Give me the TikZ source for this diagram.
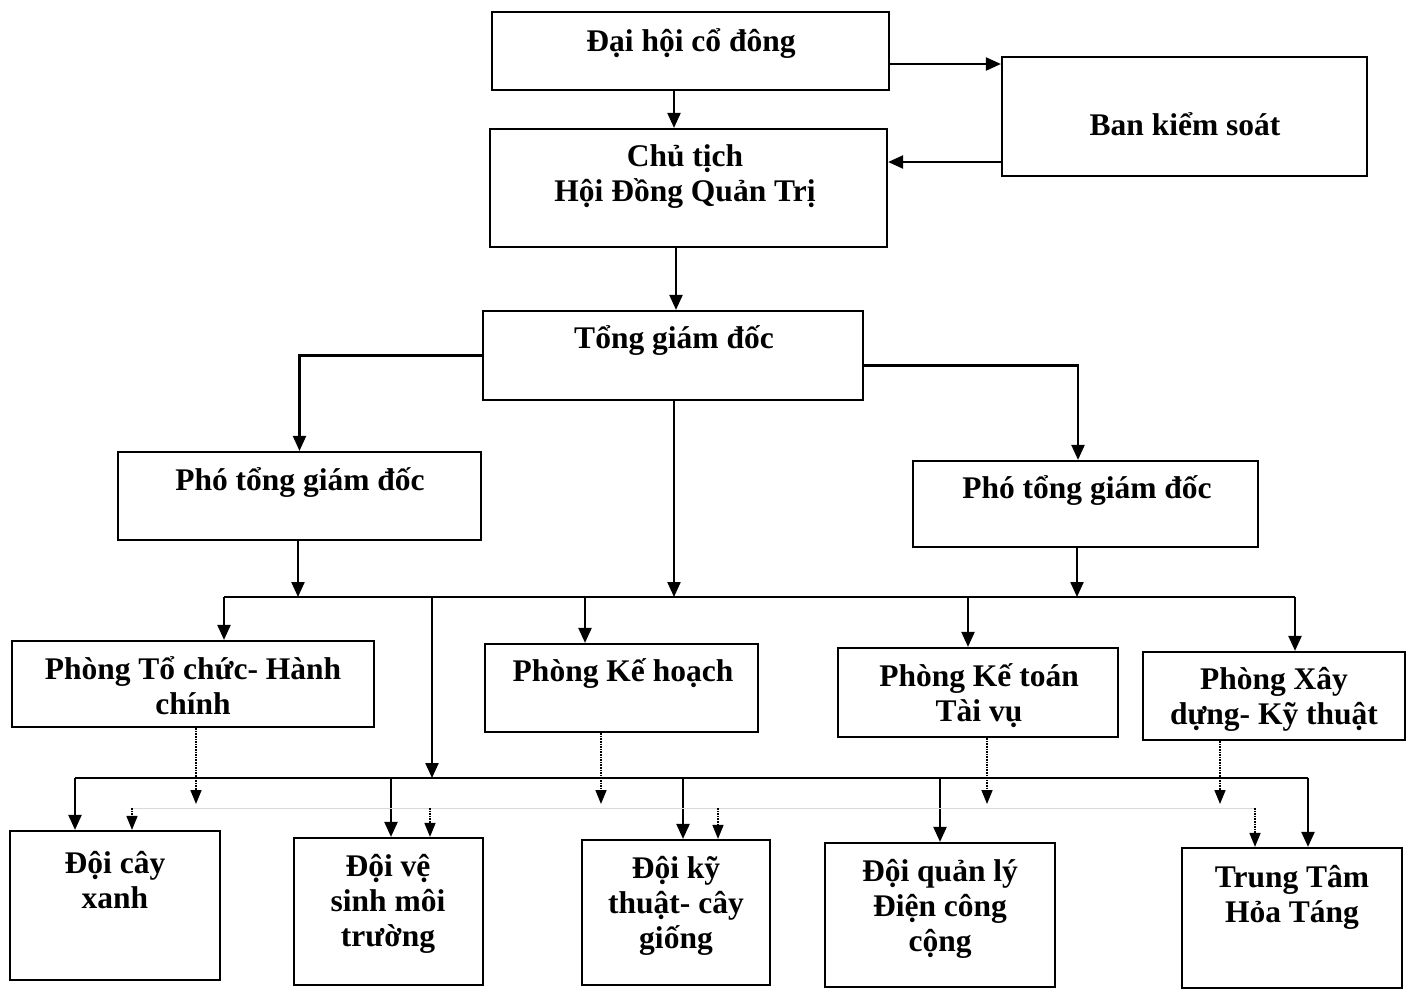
\documentclass[tikz,border=0pt]{standalone}
\usepackage{fontspec}
\setmainfont{Liberation Serif}
\usetikzlibrary{arrows.meta, positioning}

\begin{document}
\begin{tikzpicture}[x=1pt, y=-1pt,
    box/.style 2 args={draw, line width=2.2pt, inner sep=0pt, minimum width=#1pt, minimum height=#2pt},
    txt/.style={align=center, inner sep=0pt, font=\fontsize{31.5}{35}\selectfont\bfseries},
    ln/.style={line width=2.2pt},
    arr/.style={line width=2.2pt, -{Triangle[length=15pt,width=13pt]}},
    dotarr/.style={line width=1.6pt, densely dotted, -{Triangle[length=14pt,width=11pt]}}]
    \useasboundingbox (0,0) rectangle (1412,989);

    % boxes
    \node[box={397}{78}]  (dhcd) at (690.5,51) {};
    \node[box={365}{119}] (bks)  at (1184.5,116.5) {};
    \node[box={397}{118}] (ct)   at (688.5,188) {};
    \node[box={380}{89}]  (tgd)  at (673,355.5) {};
    \node[box={363}{88}]  (ptl)  at (299.5,496) {};
    \node[box={345}{86}]  (ptr)  at (1085.5,504) {};
    \node[box={362}{86}]  (ptc)  at (193,684) {};
    \node[box={273}{88}]  (pkh)  at (621.5,688) {};
    \node[box={280}{89}]  (pkt)  at (978,692.5) {};
    \node[box={262}{88}]  (pxd)  at (1274,696) {};
    \node[box={210}{149}] (dcx)  at (115,905.5) {};
    \node[box={189}{147}] (dvs)  at (388.5,911.5) {};
    \node[box={188}{145}] (dkt)  at (676,912.5) {};
    \node[box={230}{144}] (dql)  at (940,915) {};
    \node[box={220}{140}] (ttht) at (1292,918) {};

    % texts
    \node[txt] (dhcdT) at (691,44) {Đại hội cổ đông};
    \node[txt] (bksT)  at (1185,124) {Ban kiểm soát};
    \node[txt] (ctT)   at (685,177) {Chủ tịch\\Hội Đồng Quản Trị};
    \node[txt] (tgdT)  at (674,341) {Tổng giám đốc};
    \node[txt] (ptlT)  at (300,483) {Phó tổng giám đốc};
    \node[txt] (ptrT)  at (1087,491) {Phó tổng giám đốc};
    \node[txt] (ptcT)  at (193,686) {Phòng Tổ chức- Hành\\chính};
    \node[txt] (pkhT)  at (623,674) {Phòng Kế hoạch};
    \node[txt] (pktT)  at (979,696) {Phòng Kế toán\\Tài vụ};
    \node[txt] (pxdT)  at (1274,699) {Phòng Xây\\dựng- Kỹ thuật};
    \node[txt] (dcxT)  at (115,880) {Đội cây\\xanh};
    \node[txt] (dvsT)  at (388,904) {Đội vệ\\sinh môi\\trường};
    \node[txt] (dktT)  at (676,906) {Đội kỹ\\thuật- cây\\giống};
    \node[txt] (dqlT)  at (940,909) {Đội quản lý\\Điện công\\cộng};
    \node[txt] (tthtT) at (1292,897) {Trung Tâm\\Hỏa Táng};

    % top part
    \coordinate (dk) at ([yshift=-13pt]dhcd.east);
    \draw[arr] (dk) -- (dk -| bks.west);
    \coordinate (kc) at ([yshift=-45.5pt]bks.west);
    \draw[arr] (kc) -- (kc -| ct.east);
    \draw[arr] (674,0 |- dhcd.south) -- (674,0 |- ct.north);
    \draw[arr] (676,0 |- ct.south) -- (676,0 |- tgd.north);
    \draw[arr] (tgd.west) -| (ptl.north);
    \draw[arr] ([yshift=-10pt]tgd.east) -| (1078,0 |- ptr.north);

    % upper bus
    \coordinate (busA) at (0,597);
    \draw[ln] (224,0 |- busA) -- (1295,0 |- busA);
    \foreach \x/\n in {298/ptl, 674/tgd, 1077/ptr}
      \draw[arr] (\x,0 |- \n.south) -- (\x,0 |- busA);
    \foreach \x/\n in {224/ptc, 585/pkh, 968/pkt, 1295/pxd}
      \draw[arr] (\x,0 |- busA) -- (\x,0 |- \n.north);

    % lower bus
    \coordinate (busB) at (0,778);
    \draw[arr] (432,0 |- busA) -- (432,0 |- busB);
    \draw[ln] (75,0 |- busB) -- (1308,0 |- busB);
    \foreach \x/\n in {75/dcx, 391/dvs, 683/dkt, 940/dql, 1308/ttht}
      \draw[arr] (\x,0 |- busB) -- (\x,0 |- \n.north);

    % dotted links
    \coordinate (dotC) at (0,808);
    \draw[black!15, line width=1pt] (132,0 |- dotC) -- (1255,0 |- dotC);
    \foreach \x/\n in {196/ptc, 601/pkh, 987/pkt, 1220/pxd}
      \draw[dotarr, shorten >=4pt] (\x,0 |- \n.south) -- (\x,0 |- dotC);
    \foreach \x/\n in {132/dcx, 430/dvs, 718/dkt, 1255/ttht}
      \draw[dotarr] (\x,0 |- dotC) -- (\x,0 |- \n.north);
\end{tikzpicture}
\end{document}
